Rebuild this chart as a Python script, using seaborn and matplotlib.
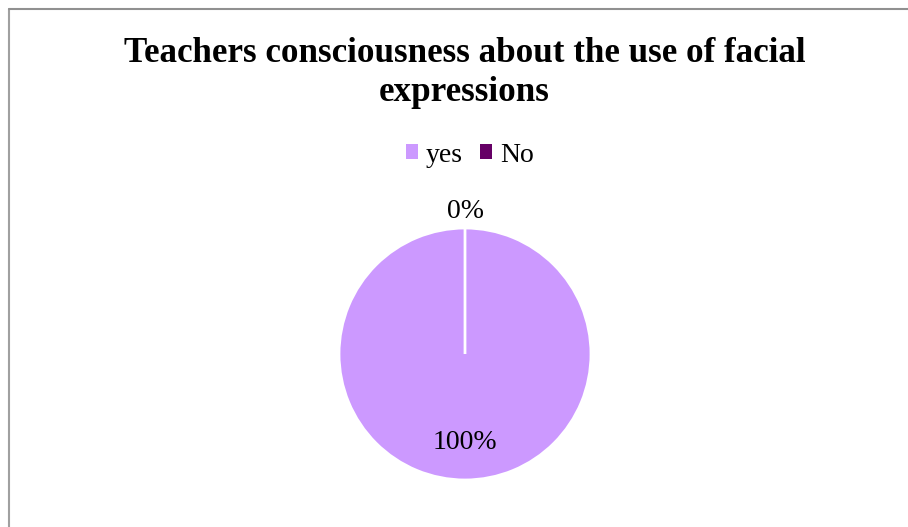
import numpy as np
import matplotlib
matplotlib.use("Agg")
import matplotlib.pyplot as plt
import seaborn as sns
from matplotlib.lines import Line2D
from matplotlib.patches import Patch

categories = ["yes", "No"]
values = [100, 0]
pct_labels = ["100%", "0%"]
colors = ["#CC99FF", "#660066"]
title = "Teachers consciousness about the use of facial\nexpressions"

sns.set_theme(style="white")
plt.rcParams['font.family'] = ['Liberation Serif', 'DejaVu Serif']
plt.rcParams['text.color'] = 'black'

W, H = 908, 527
fig = plt.figure(figsize=(W / 100, H / 100), dpi=100)
fig.patch.set_facecolor("white")

cx, cy, r = 465, 354, 126
ax = fig.add_axes([(cx - r) / W, (H - cy - r) / H, 2 * r / W, 2 * r / H])
wedges, _ = ax.pie(values, colors=colors, startangle=90, counterclock=False,
                   radius=1, wedgeprops=dict(edgecolor="white", linewidth=2))
ax.set_xlim(-1, 1)
ax.set_ylim(-1, 1)
ax.set_aspect("equal")
ax.axis("off")

dists = [0.70, 1.13]
for w, lab, d in zip(wedges, pct_labels, dists):
    ang = np.deg2rad((w.theta1 + w.theta2) / 2)
    ax.text(d * np.cos(ang), d * np.sin(ang), lab, ha="center", va="center",
            fontsize=20, color="black", clip_on=False)

fig.text(464.5 / W, 1 - 73 / H, title, ha="center", va="center",
         fontsize=25.2, fontweight="bold", linespacing=1.22, color="black")

handles = [Patch(facecolor=c, edgecolor="none") for c in colors]
fig.legend(handles, categories, loc="center", bbox_to_anchor=(470 / W, 1 - 155 / H),
           ncol=2, frameon=False, fontsize=20, handlelength=0.43, handleheight=0.43,
           handletextpad=0.3, columnspacing=0.62, labelcolor="black")

fig.add_artist(Line2D([8.5 / W, 8.5 / W], [0, 1 - 8.5 / H], transform=fig.transFigure,
                      color="#a0a0a0", linewidth=1.5))
fig.add_artist(Line2D([8.5 / W, 1], [1 - 8.5 / H, 1 - 8.5 / H], transform=fig.transFigure,
                      color="#909090", linewidth=1.5))

fig.savefig("out.png", dpi=100)
